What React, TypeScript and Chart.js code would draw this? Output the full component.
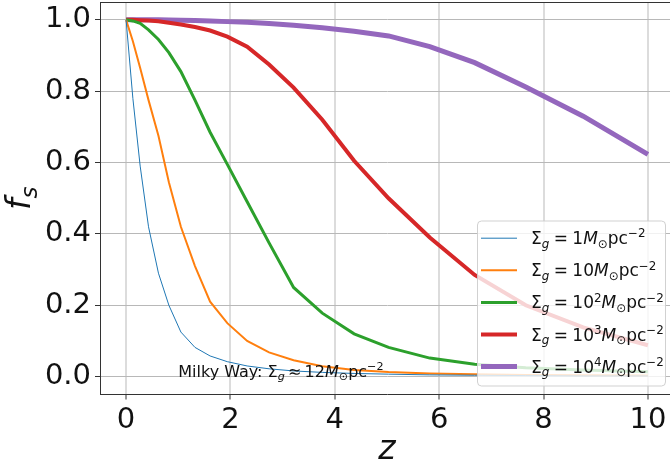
import React, { useEffect, useRef } from 'react';
import { Chart, registerables } from 'chart.js';

Chart.register(...registerables);

// ---- data ----
const zValues = [0, 0.13, 0.27, 0.43, 0.62, 0.82, 1.05, 1.32, 1.61, 1.94, 2.32, 2.74, 3.21, 3.76, 4.37, 5.03, 5.82, 6.68, 7.66, 8.76, 10];
const fsSigma1 = [1, 0.78, 0.59, 0.42, 0.29, 0.2, 0.125, 0.082, 0.058, 0.042, 0.03, 0.022, 0.016, 0.012, 0.009, 0.007, 0.005, 0.004, 0.003, 0.002, 0.002];
const fsSigma10 = [1, 0.94, 0.865, 0.775, 0.675, 0.545, 0.42, 0.31, 0.21, 0.15, 0.1, 0.068, 0.046, 0.029, 0.019, 0.013, 0.009, 0.007, 0.005, 0.004, 0.003];
const fsSigma100 = [1, 0.997, 0.99, 0.972, 0.945, 0.908, 0.855, 0.775, 0.685, 0.595, 0.49, 0.375, 0.25, 0.178, 0.12, 0.082, 0.052, 0.035, 0.025, 0.019, 0.014];
const fsSigma1000 = [1, 1, 0.999, 0.998, 0.996, 0.992, 0.987, 0.98, 0.97, 0.953, 0.925, 0.875, 0.81, 0.72, 0.605, 0.5, 0.39, 0.285, 0.2, 0.138, 0.088];
const fsSigma10000 = [1, 1, 1, 1, 1, 0.9995, 0.999, 0.998, 0.997, 0.995, 0.993, 0.99, 0.985, 0.978, 0.968, 0.955, 0.925, 0.88, 0.812, 0.73, 0.623];

const seriesValues = [fsSigma1, fsSigma10, fsSigma100, fsSigma1000, fsSigma10000];
const sigmaMantissa = ['1', '10', '10', '10', '10'];
const sigmaExponent = ['', '', '2', '3', '4'];
const seriesColors = ['#1f77b4', '#ff7f0e', '#2ca02c', '#d62728', '#9467bd'];
const seriesWidths = [1, 2, 3, 4, 5];

const xTicks = [0, 2, 4, 6, 8, 10];
const yTicks = [0, 0.2, 0.4, 0.6, 0.8, 1.0];
const xRange = [-0.5, 10.5];
const yRange = [-0.05, 1.05];
const milkyWayAt = { z: 1, fs: 0 };
const milkyWayValue = '12';

const FONT = '"DejaVu Sans"';

type Seg = { t: string; it?: boolean; pos?: 'sub' | 'sup'; dx?: number };

function drawRich(ctx: CanvasRenderingContext2D, x: number, y: number, segs: Seg[], size: number, doDraw = true) {
  let cx = x;
  for (const s of segs) {
    if (s.dx) cx += s.dx * size;
    const sz = s.pos ? size * 0.7 : size;
    const dy = s.pos === 'sub' ? size * 0.22 : s.pos === 'sup' ? -size * 0.4 : 0;
    ctx.font = `${s.it ? 'italic ' : ''}${sz}px ${FONT}`;
    if (doDraw) ctx.fillText(s.t, cx, y + dy);
    cx += ctx.measureText(s.t).width;
  }
  return cx - x;
}

function sigmaSegs(mant: string, exp: string): Seg[] {
  const segs: Seg[] = [
    { t: 'Σ' },
    { t: 'g', it: true, pos: 'sub' },
    { t: '=', dx: 0.26 },
    { t: mant, dx: 0.26 },
  ];
  if (exp) segs.push({ t: exp, pos: 'sup' });
  segs.push({ t: 'M', it: true }, { t: '⊙', pos: 'sub' }, { t: 'pc' }, { t: '−2', pos: 'sup' });
  return segs;
}

const overlayPlugin = {
  id: 'overlay',
  afterDraw(chart: any) {
    const ctx: CanvasRenderingContext2D = chart.ctx;
    const area = chart.chartArea;
    const xs = chart.scales.x;
    const ys = chart.scales.y;
    ctx.save();
    // top spine
    ctx.strokeStyle = '#333';
    ctx.lineWidth = 1;
    ctx.beginPath();
    ctx.moveTo(area.left, Math.round(area.top) + 0.5);
    ctx.lineTo(area.right, Math.round(area.top) + 0.5);
    ctx.stroke();

    // Milky Way annotation
    ctx.fillStyle = '#111';
    ctx.textBaseline = 'alphabetic';
    ctx.textAlign = 'left';
    const ax = xs.getPixelForValue(milkyWayAt.z);
    const ay = ys.getPixelForValue(milkyWayAt.fs);
    drawRich(ctx, ax, ay, [
      { t: 'Milky Way: ' },
      { t: 'Σ' },
      { t: 'g', it: true, pos: 'sub' },
      { t: '≈', dx: 0.2 },
      { t: milkyWayValue, dx: 0.2 },
      { t: 'M', it: true },
      { t: '⊙', pos: 'sub' },
      { t: 'pc' },
      { t: '−2', pos: 'sup' },
    ], 16);

    // legend
    const fs = 17;
    const boxW = 188;
    const boxH = 165;
    const bx = area.right - 9 - boxW;
    const by = area.bottom - 9 - boxH;
    ctx.fillStyle = 'rgba(255,255,255,0.8)';
    ctx.strokeStyle = 'rgba(204,204,204,0.9)';
    ctx.lineWidth = 1;
    ctx.beginPath();
    (ctx as any).roundRect(bx + 0.5, by + 0.5, boxW, boxH, 4);
    ctx.fill();
    ctx.stroke();
    const rowStart = by + 17.7;
    const rowStep = 32.1;
    for (let i = 0; i < seriesValues.length; i++) {
      const ry = rowStart + i * rowStep;
      ctx.strokeStyle = seriesColors[i];
      ctx.lineWidth = seriesWidths[i];
      ctx.beginPath();
      ctx.moveTo(bx + 4, ry);
      ctx.lineTo(bx + 40, ry);
      ctx.stroke();
      ctx.fillStyle = '#111';
      drawRich(ctx, bx + 54, ry + 6, sigmaSegs(sigmaMantissa[i], sigmaExponent[i]), fs);
    }

    // axis titles
    ctx.fillStyle = '#111';
    ctx.font = `italic 33px ${FONT}`;
    ctx.textAlign = 'center';
    ctx.textBaseline = 'alphabetic';
    ctx.fillText('z', (area.left + area.right) / 2, 459);

    ctx.translate(30, (area.top + area.bottom) / 2);
    ctx.rotate(-Math.PI / 2);
    ctx.textAlign = 'left';
    const w = drawRich(ctx, 0, 0, [{ t: 'f', it: true }, { t: 's', it: true, pos: 'sub' }], 33, false);
    drawRich(ctx, -w / 2, 0, [{ t: 'f', it: true }, { t: 's', it: true, pos: 'sub' }], 33);
    ctx.restore();
  },
};

function zeroPad(s: any) {
  s.paddingTop = 0;
  s.paddingBottom = 0;
  s.paddingLeft = 0;
  s.paddingRight = 0;
}

export default function App() {
  const ref = useRef<HTMLCanvasElement | null>(null);
  useEffect(() => {
    if (!ref.current) return;
    const labels = sigmaMantissa.map((m, i) => `Σg = ${m}${sigmaExponent[i] ? '^' + sigmaExponent[i] : ''} M⊙pc^-2`);
    const chart = new Chart(ref.current, {
      type: 'line',
      data: {
        datasets: seriesValues.map((vals, i) => ({
          label: labels[i],
          data: zValues.map((z, j) => ({ x: z, y: vals[j] })),
          borderColor: seriesColors[i],
          backgroundColor: seriesColors[i],
          borderWidth: seriesWidths[i],
          pointRadius: 0,
          tension: 0,
          fill: false,
        })),
      },
      options: {
        responsive: false,
        animation: false,
        devicePixelRatio: 1,
        layout: { padding: { top: 2, right: 6, left: 0, bottom: 0 }, autoPadding: false },
        plugins: { legend: { display: false }, tooltip: { enabled: false } },
        scales: {
          x: {
            type: 'linear',
            min: xRange[0],
            max: xRange[1],
            afterBuildTicks: (s: any) => { s.ticks = xTicks.map((v) => ({ value: v })); },
            afterFit: (s: any) => { s.height = 69.5; zeroPad(s); },
            ticks: {
              callback: (v: any) => String(v),
              font: { family: 'DejaVu Sans', size: 29 },
              color: '#111',
              padding: 4,
              maxRotation: 0,
            },
            grid: { color: '#dcdcdc', lineWidth: 2, tickLength: 5, tickColor: '#333', tickWidth: 1 },
            border: { display: true, color: '#333', width: 1 },
          },
          y: {
            type: 'linear',
            min: yRange[0],
            max: yRange[1],
            afterBuildTicks: (s: any) => { s.ticks = yTicks.map((v) => ({ value: v })); },
            afterFit: (s: any) => { s.width = 100; zeroPad(s); },
            ticks: {
              callback: (v: any) => Number(v).toFixed(1),
              font: { family: 'DejaVu Sans', size: 29 },
              color: '#111',
              padding: 4,
            },
            grid: { color: '#b8b8b8', lineWidth: 1, tickLength: 5, tickColor: '#333', tickWidth: 1 },
            border: { display: true, color: '#333', width: 1 },
          },
        },
      },
      plugins: [overlayPlugin],
    } as any);
    return () => chart.destroy();
  }, []);
  return (
    <div style={{ position: 'absolute', left: 0, top: 0, width: 670, height: 464, overflow: 'hidden', background: '#fff' }}>
      <canvas ref={ref} width={680} height={464} style={{ display: 'block' }} />
    </div>
  );
}
